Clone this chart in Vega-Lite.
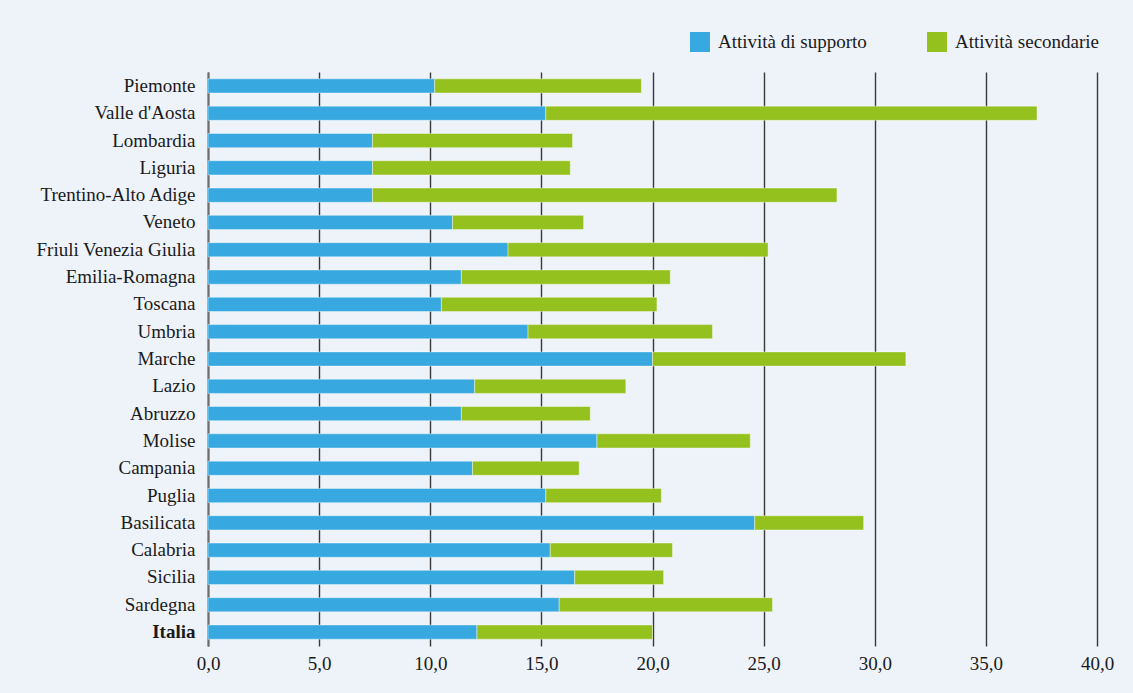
{
  "$schema": "https://vega.github.io/schema/vega-lite/v6.json",
  "autosize": {"type": "none"},
  "width": 889,
  "height": 574,
  "padding": {"left": 208, "top": 72, "right": 36, "bottom": 47},
  "background": "#eef3fa",
  "config": {
    "view": {"stroke": null, "fill": "#eef3fa"},
    "font": "Liberation Serif",
    "axis": {"labelFont": "Liberation Serif", "labelColor": "#1a1a1a"},
    "axisX": {"labelFont": "Liberation Serif"},
    "legend": {"labelFont": "Liberation Serif"}
  },
  "data": {
    "values": [
      {"regione": "Piemonte", "tipo": "Attività di supporto", "ord": 1, "valore": 10.2},
      {"regione": "Piemonte", "tipo": "Attività secondarie", "ord": 2, "valore": 9.3},
      {"regione": "Valle d'Aosta", "tipo": "Attività di supporto", "ord": 1, "valore": 15.2},
      {"regione": "Valle d'Aosta", "tipo": "Attività secondarie", "ord": 2, "valore": 22.1},
      {"regione": "Lombardia", "tipo": "Attività di supporto", "ord": 1, "valore": 7.4},
      {"regione": "Lombardia", "tipo": "Attività secondarie", "ord": 2, "valore": 9.0},
      {"regione": "Liguria", "tipo": "Attività di supporto", "ord": 1, "valore": 7.4},
      {"regione": "Liguria", "tipo": "Attività secondarie", "ord": 2, "valore": 8.9},
      {"regione": "Trentino-Alto Adige", "tipo": "Attività di supporto", "ord": 1, "valore": 7.4},
      {"regione": "Trentino-Alto Adige", "tipo": "Attività secondarie", "ord": 2, "valore": 20.9},
      {"regione": "Veneto", "tipo": "Attività di supporto", "ord": 1, "valore": 11.0},
      {"regione": "Veneto", "tipo": "Attività secondarie", "ord": 2, "valore": 5.9},
      {"regione": "Friuli Venezia Giulia", "tipo": "Attività di supporto", "ord": 1, "valore": 13.5},
      {"regione": "Friuli Venezia Giulia", "tipo": "Attività secondarie", "ord": 2, "valore": 11.7},
      {"regione": "Emilia-Romagna", "tipo": "Attività di supporto", "ord": 1, "valore": 11.4},
      {"regione": "Emilia-Romagna", "tipo": "Attività secondarie", "ord": 2, "valore": 9.4},
      {"regione": "Toscana", "tipo": "Attività di supporto", "ord": 1, "valore": 10.5},
      {"regione": "Toscana", "tipo": "Attività secondarie", "ord": 2, "valore": 9.7},
      {"regione": "Umbria", "tipo": "Attività di supporto", "ord": 1, "valore": 14.4},
      {"regione": "Umbria", "tipo": "Attività secondarie", "ord": 2, "valore": 8.3},
      {"regione": "Marche", "tipo": "Attività di supporto", "ord": 1, "valore": 20.0},
      {"regione": "Marche", "tipo": "Attività secondarie", "ord": 2, "valore": 11.4},
      {"regione": "Lazio", "tipo": "Attività di supporto", "ord": 1, "valore": 12.0},
      {"regione": "Lazio", "tipo": "Attività secondarie", "ord": 2, "valore": 6.8},
      {"regione": "Abruzzo", "tipo": "Attività di supporto", "ord": 1, "valore": 11.4},
      {"regione": "Abruzzo", "tipo": "Attività secondarie", "ord": 2, "valore": 5.8},
      {"regione": "Molise", "tipo": "Attività di supporto", "ord": 1, "valore": 17.5},
      {"regione": "Molise", "tipo": "Attività secondarie", "ord": 2, "valore": 6.9},
      {"regione": "Campania", "tipo": "Attività di supporto", "ord": 1, "valore": 11.9},
      {"regione": "Campania", "tipo": "Attività secondarie", "ord": 2, "valore": 4.8},
      {"regione": "Puglia", "tipo": "Attività di supporto", "ord": 1, "valore": 15.2},
      {"regione": "Puglia", "tipo": "Attività secondarie", "ord": 2, "valore": 5.2},
      {"regione": "Basilicata", "tipo": "Attività di supporto", "ord": 1, "valore": 24.6},
      {"regione": "Basilicata", "tipo": "Attività secondarie", "ord": 2, "valore": 4.9},
      {"regione": "Calabria", "tipo": "Attività di supporto", "ord": 1, "valore": 15.4},
      {"regione": "Calabria", "tipo": "Attività secondarie", "ord": 2, "valore": 5.5},
      {"regione": "Sicilia", "tipo": "Attività di supporto", "ord": 1, "valore": 16.5},
      {"regione": "Sicilia", "tipo": "Attività secondarie", "ord": 2, "valore": 4.0},
      {"regione": "Sardegna", "tipo": "Attività di supporto", "ord": 1, "valore": 15.8},
      {"regione": "Sardegna", "tipo": "Attività secondarie", "ord": 2, "valore": 9.6},
      {"regione": "Italia", "tipo": "Attività di supporto", "ord": 1, "valore": 12.1},
      {"regione": "Italia", "tipo": "Attività secondarie", "ord": 2, "valore": 7.9}
    ]
  },
  "mark": {"type": "bar", "stroke": "#ffffff", "strokeWidth": 0.8, "strokeOpacity": 0.5},
  "encoding": {
    "y": {
      "field": "regione",
      "type": "nominal",
      "sort": null,
      "title": null,
      "scale": {"paddingInner": 0.48, "paddingOuter": 0.25},
      "axis": {
        "domain": true,
        "domainColor": "#6d6d6d",
        "domainWidth": 2,
        "ticks": false,
        "labelPadding": 13,
        "labelFont": "Liberation Serif",
        "labelFontSize": 19,
        "labelFontWeight": {"condition": {"test": "datum.value === 'Italia'", "value": "bold"}, "value": "normal"},
        "grid": false
      }
    },
    "x": {
      "field": "valore",
      "type": "quantitative",
      "stack": "zero",
      "title": null,
      "scale": {"domain": [0, 40], "nice": false},
      "axis": {
        "values": [0, 5, 10, 15, 20, 25, 30, 35, 40],
        "domain": false,
        "ticks": false,
        "grid": true,
        "gridColor": "#3a3a3a",
        "gridWidth": 1.4,
        "labelPadding": 8,
        "labelFlush": false,
        "labelFont": "Liberation Serif",
        "labelFontSize": 19,
        "labelFontWeight": "normal",
        "labelExpr": "replace(format(datum.value, '.1f'), '.', ',')"
      }
    },
    "color": {
      "field": "tipo",
      "type": "nominal",
      "scale": {"domain": ["Attività di supporto", "Attività secondarie"], "range": ["#37a9e0", "#95c11f"]},
      "legend": {
        "title": null,
        "orient": "none",
        "direction": "horizontal",
        "legendX": 482,
        "legendY": -40,
        "symbolType": "square",
        "symbolSize": 400,
        "symbolStrokeWidth": 0,
        "labelFont": "Liberation Serif",
        "labelFontSize": 19,
        "labelColor": "#1a1a1a",
        "labelOffset": 8,
        "columnPadding": 60,
        "labelLimit": 300
      }
    },
    "order": {"field": "ord", "type": "quantitative"}
  }
}
